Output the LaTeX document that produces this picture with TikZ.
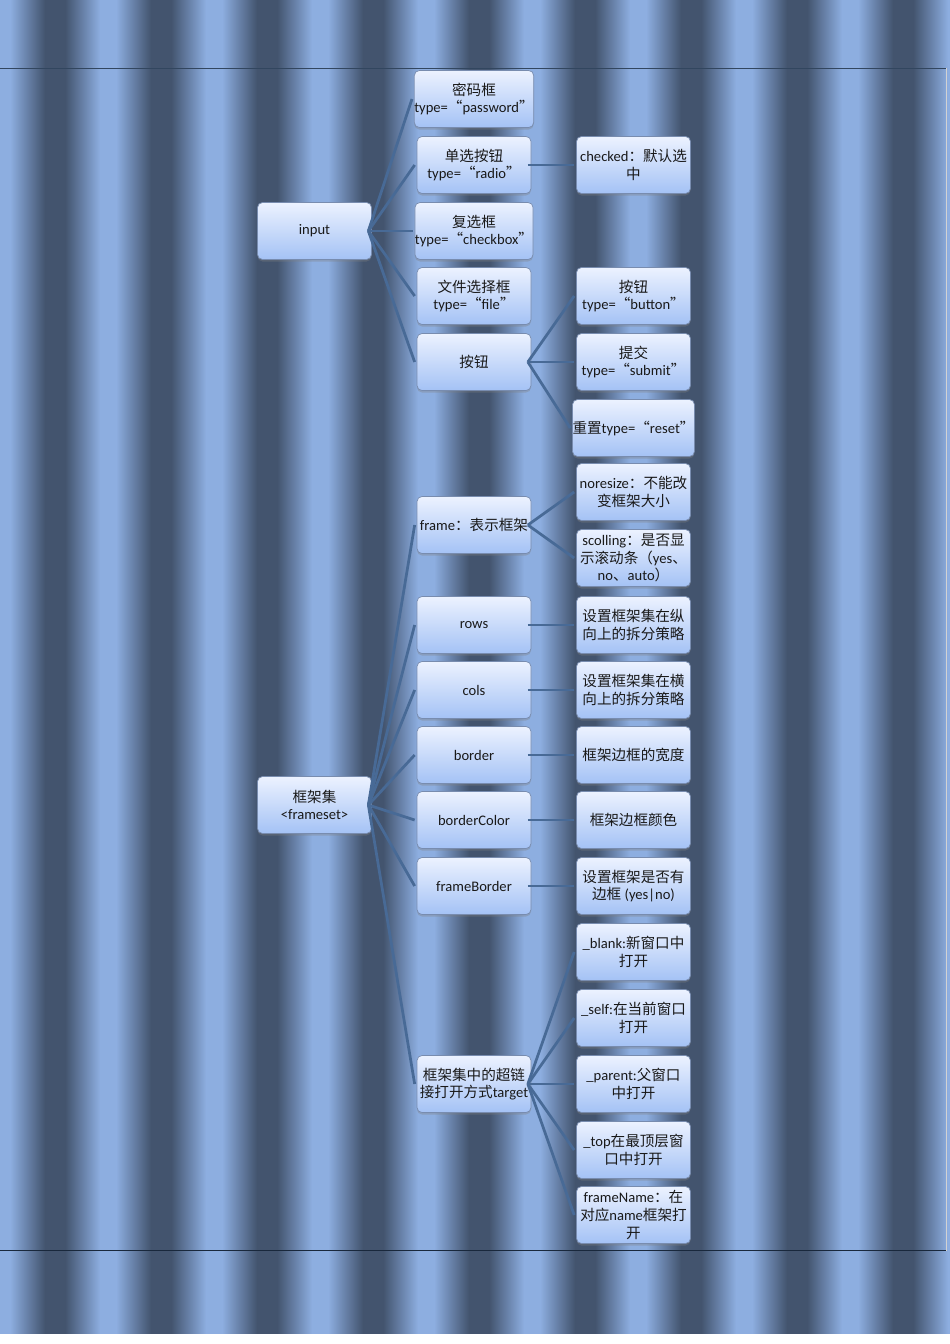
\documentclass[tikz,border=0pt]{standalone}
\usepackage{fontspec}
\setmainfont{Carlito}
\newfontfamily\cjk{Noto Sans CJK SC}
\newcommand{\zh}[1]{{\cjk #1}}
\usetikzlibrary{positioning,shadows}
\definecolor{stripelight}{RGB}{141,174,224}
\definecolor{stripemid}{RGB}{106,132,172}
\definecolor{stripedark}{RGB}{67,84,110}
\definecolor{boxtop}{RGB}{236,242,255}
\definecolor{boxbottom}{RGB}{164,194,245}
\definecolor{boxline}{RGB}{120,140,175}
\definecolor{linkblue}{RGB}{72,106,150}
\pgfdeclarehorizontalshading{stripe}{100bp}{color(0bp)=(stripelight); color(28.77bp)=(stripelight); color(36.32bp)=(stripemid); color(45.28bp)=(stripedark); color(54.72bp)=(stripedark); color(63.68bp)=(stripemid); color(71.23bp)=(stripelight); color(100bp)=(stripelight)}
\tikzset{
    box/.style = {
        draw=boxline,
        line width=0.4pt,
        rounded corners=1mm,
        top color=boxtop,
        bottom color=boxbottom,
        minimum width=22.8mm,
        minimum height=11.4mm,
        inner sep=0pt,
        align=center,
        text=black!90,
        font=\fontsize{8.3}{10}\selectfont,
        drop shadow={shadow xshift=0pt, shadow yshift=-0.4mm, opacity=0.35}
    },
    link/.style = {
        draw=linkblue,
        line width=0.55mm
    },
}

\begin{document}
\begin{tikzpicture}[x=0.2mm,y=-0.2mm]
    \useasboundingbox (0,0) rectangle (950,1344);
    % striped page
    \begin{scope}
        \clip (0,0) rectangle (950,1333);
        \foreach \k in {-1,...,8}
            \shade[shading=stripe] ({2+106*\k},0) rectangle ({108+106*\k},1333);
    \end{scope}
    \draw[color={rgb,255:red,50;green,70;blue,95}, line width=0.2mm] (0,68.5) -- (946,68.5);
    \draw[color={rgb,255:red,25;green,40;blue,60}, line width=0.3mm] (0,1250.5) -- (946,1250.5);
    \draw[gray!35, line width=0.2mm] (946.5,68.5) -- (946.5,1250.5);

    \node[box] (input) at (314.5,231) {input};
    \node[box] (frameset) at (314.5,805) {\zh{框架集}\\<frameset>};

    \node[box] (password) at (474,99) {\zh{密码框}\\type=\zh{“}password\zh{”}};
    \node[box] (radio) at (474,165) {\zh{单选按钮}\\type=\zh{“}radio\zh{”}};
    \node[box] (checkbox) at (474,231) {\zh{复选框}\\type=\zh{“}checkbox\zh{”}};
    \node[box] (file) at (474,296) {\zh{文件选择框}\\type=\zh{“}file\zh{”}};
    \node[box] (button) at (474,362) {\zh{按钮}};
    \node[box] (frame) at (474,525) {frame\zh{：表示框架}};
    \node[box] (rows) at (474,625) {rows};
    \node[box] (cols) at (474,690) {cols};
    \node[box] (border) at (474,755) {border};
    \node[box] (bordercolor) at (474,820) {borderColor};
    \node[box] (frameborder) at (474,886) {frameBorder};
    \node[box] (target) at (474,1084) {\zh{框架集中的超链}\\\zh{接打开方式}target};

    \node[box] (checked) at (633.5,165) {checked\zh{：默认选}\\\zh{中}};
    \node[box] (btn) at (633.5,296) {\zh{按钮}\\type=\zh{“}button\zh{”}};
    \node[box] (submit) at (633.5,362) {\zh{提交}\\type=\zh{“}submit\zh{”}};
    \node[box] (reset) at (633.5,428) {\zh{重置}type=\zh{“}reset\zh{”}};
    \node[box] (noresize) at (633.5,492) {noresize\zh{：不能改}\\\zh{变框架大小}};
    \node[box] (scolling) at (633.5,558) {scolling\zh{：是否显}\\\zh{示滚动条（}yes\zh{、}\\no\zh{、}auto\zh{）}};
    \node[box] (rowsdesc) at (633.5,625) {\zh{设置框架集在纵}\\\zh{向上的拆分策略}};
    \node[box] (colsdesc) at (633.5,690) {\zh{设置框架集在横}\\\zh{向上的拆分策略}};
    \node[box] (borderdesc) at (633.5,755) {\zh{框架边框的宽度}};
    \node[box] (colordesc) at (633.5,820) {\zh{框架边框颜色}};
    \node[box] (fbdesc) at (633.5,886) {\zh{设置框架是否有}\\\zh{边框} (yes|no)};
    \node[box] (blank) at (633.5,952) {\_blank:\zh{新窗口中}\\\zh{打开}};
    \node[box] (self) at (633.5,1018) {\_self:\zh{在当前窗口}\\\zh{打开}};
    \node[box] (parent) at (633.5,1084) {\_parent:\zh{父窗口}\\\zh{中打开}};
    \node[box] (top) at (633.5,1150) {\_top\zh{在最顶层窗}\\\zh{口中打开}};
    \node[box] (framename) at (633.5,1215) {frameName\zh{：在}\\\zh{对应}name\zh{框架打}\\\zh{开}};

    \path[link] ([xshift=-0.7mm]input.east) -- ([xshift=-0.4mm]password.west);
    \path[link] ([xshift=-0.7mm]input.east) -- ([xshift=-0.4mm]radio.west);
    \path[link] ([xshift=-0.7mm]input.east) -- ([xshift=-0.4mm]checkbox.west);
    \path[link] ([xshift=-0.7mm]input.east) -- ([xshift=-0.4mm]file.west);
    \path[link] ([xshift=-0.7mm]input.east) -- ([xshift=-0.4mm]button.west);
    \path[link] ([xshift=-0.7mm]radio.east) -- ([xshift=-0.4mm]checked.west);
    \path[link] ([xshift=-0.7mm]button.east) -- ([xshift=-0.4mm]btn.west);
    \path[link] ([xshift=-0.7mm]button.east) -- ([xshift=-0.4mm]submit.west);
    \path[link] ([xshift=-0.7mm]button.east) -- ([xshift=-0.4mm]reset.west);

    \path[link] ([xshift=-0.7mm]frameset.east) -- ([xshift=-0.4mm]frame.west);
    \path[link] ([xshift=-0.7mm]frameset.east) -- ([xshift=-0.4mm]rows.west);
    \path[link] ([xshift=-0.7mm]frameset.east) -- ([xshift=-0.4mm]cols.west);
    \path[link] ([xshift=-0.7mm]frameset.east) -- ([xshift=-0.4mm]border.west);
    \path[link] ([xshift=-0.7mm]frameset.east) -- ([xshift=-0.4mm]bordercolor.west);
    \path[link] ([xshift=-0.7mm]frameset.east) -- ([xshift=-0.4mm]frameborder.west);
    \path[link] ([xshift=-0.7mm]frameset.east) -- ([xshift=-0.4mm]target.west);
    \path[link] ([xshift=-0.7mm]frame.east) -- ([xshift=-0.4mm]noresize.west);
    \path[link] ([xshift=-0.7mm]frame.east) -- ([xshift=-0.4mm]scolling.west);
    \path[link] ([xshift=-0.7mm]rows.east) -- ([xshift=-0.4mm]rowsdesc.west);
    \path[link] ([xshift=-0.7mm]cols.east) -- ([xshift=-0.4mm]colsdesc.west);
    \path[link] ([xshift=-0.7mm]border.east) -- ([xshift=-0.4mm]borderdesc.west);
    \path[link] ([xshift=-0.7mm]bordercolor.east) -- ([xshift=-0.4mm]colordesc.west);
    \path[link] ([xshift=-0.7mm]frameborder.east) -- ([xshift=-0.4mm]fbdesc.west);

    \path[link] ([xshift=-0.7mm]target.east) -- ([xshift=-0.4mm]blank.west);
    \path[link] ([xshift=-0.7mm]target.east) -- ([xshift=-0.4mm]self.west);
    \path[link] ([xshift=-0.7mm]target.east) -- ([xshift=-0.4mm]parent.west);
    \path[link] ([xshift=-0.7mm]target.east) -- ([xshift=-0.4mm]top.west);
    \path[link] ([xshift=-0.7mm]target.east) -- ([xshift=-0.4mm]framename.west);
\end{tikzpicture}
\end{document}
